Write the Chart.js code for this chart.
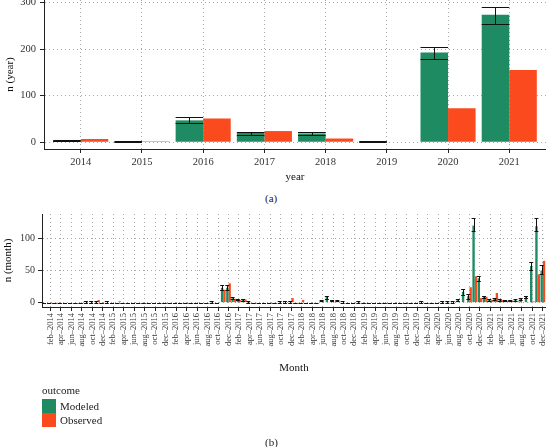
<!DOCTYPE html>
<html>
<head>
<meta charset="utf-8">
<title>Modeled vs observed counts</title>
<script src="https://cdn.jsdelivr.net/npm/chart.js@4.4.1/dist/chart.umd.min.js"></script>
<style>
  body { margin: 0; background: #fff; }
  #page { position: relative; width: 546px; height: 447px; overflow: hidden; font-family: "Liberation Serif", "DejaVu Serif", serif; color: #222; }
  canvas { position: absolute; left: 0; }
  .note { position: absolute; font-size: 11px; line-height: 14px; color: #222; }
  .swatch { position: absolute; left: 42px; width: 14px; height: 14px; }
</style>
</head>
<body>
<div id="page">
  <canvas id="yearChart" width="546" height="200" style="top:-10px"></canvas>
  <div class="note" style="left:265px;top:191px">(a)</div>
  <canvas id="monthChart" width="546" height="185" style="top:200px"></canvas>
  <div class="note" style="left:42px;top:383px">outcome</div>
  <div class="swatch" id="swModeled" style="top:399px"></div>
  <div class="note" style="left:60px;top:399px">Modeled</div>
  <div class="swatch" id="swObserved" style="top:413px"></div>
  <div class="note" style="left:60px;top:413px">Observed</div>
  <div class="note" style="left:265px;top:435px">(b)</div>
</div>
<script>
// ---- yearly totals (panel a) ----
const years = ['2014', '2015', '2016', '2017', '2018', '2019', '2020', '2021'];
const yearModeled   = [3, 1, 47, 20, 19, 1, 193, 274];
const yearModeledLo = [2, 0, 41, 15, 16, 0, 178, 254];
const yearModeledHi = [5, 2, 54, 22, 21, 2, 204, 291];
const yearObserved  = [7, 2, 51, 24, 8, 0, 73, 155];
const yearAxisTicks = [0, 100, 200, 300];

// ---- monthly counts (panel b), jan-2014 .. dec-2021, one row per year ----
const monthNames = ['jan', 'feb', 'mar', 'apr', 'may', 'jun', 'jul', 'aug', 'sep', 'oct', 'nov', 'dec'];
const monthYears = [2014, 2015, 2016, 2017, 2018, 2019, 2020, 2021];
const monthModeled = [
  0, 0, 0, 0, 0, 0, 0, 0, 1, 1, 1, 0,
  1, 0, 0, 0, 0, 0, 0, 0, 0, 0, 0, 0,
  0, 0, 0, 0, 0, 0, 0, 0, 1, 0, 23, 23,
  7, 5, 4, 1, 0, 0, 0, 0, 0, 1, 1, 1,
  0, 0, 0, 0, 0, 3, 9, 3, 3, 1, 0, 0,
  1, 0, 0, 0, 0, 0, 0, 0, 0, 0, 0, 0,
  1, 0, 0, 0, 1, 1, 1, 4, 17, 10, 120, 38,
  9, 4, 6, 4, 3, 3, 4, 6, 9, 57, 119, 50
];
const monthModeledLo = [
  0, 0, 0, 0, 0, 0, 0, 0, 0, 0, 0, 0,
  0, 0, 0, 0, 0, 0, 0, 0, 0, 0, 0, 0,
  0, 0, 0, 0, 0, 0, 0, 0, 0, 0, 19, 19,
  5, 4, 3, 0, 0, 0, 0, 0, 0, 0, 0, 0,
  0, 0, 0, 0, 0, 2, 6, 2, 2, 0, 0, 0,
  0, 0, 0, 0, 0, 0, 0, 0, 0, 0, 0, 0,
  0, 0, 0, 0, 0, 0, 0, 3, 12, 6, 112, 33,
  7, 3, 4, 3, 2, 2, 3, 4, 7, 51, 111, 45
];
const monthModeledHi = [
  0, 0, 0, 0, 0, 0, 0, 0, 2, 2, 2, 0,
  2, 0, 0, 0, 0, 0, 0, 0, 0, 0, 0, 0,
  0, 0, 0, 0, 0, 0, 0, 0, 2, 0, 27, 27,
  8, 6, 5, 2, 0, 0, 0, 0, 0, 2, 2, 2,
  0, 0, 0, 0, 0, 4, 11, 4, 4, 2, 0, 0,
  2, 0, 0, 0, 0, 0, 0, 0, 0, 0, 0, 0,
  2, 0, 0, 0, 2, 2, 2, 6, 22, 13, 131, 42,
  10, 5, 7, 5, 4, 4, 5, 7, 11, 63, 131, 58
];
const monthObserved = [
  0, 1, 1, 0, 0, 0, 0, 0, 0, 0, 4, 1,
  0, 0, 2, 0, 0, 0, 0, 0, 0, 0, 0, 0,
  0, 0, 0, 0, 0, 1, 0, 0, 0, 0, 20, 30,
  6, 4, 5, 1, 1, 0, 0, 0, 0, 0, 0, 7,
  1, 4, 0, 0, 0, 0, 1, 1, 1, 0, 0, 0,
  0, 0, 0, 0, 0, 0, 0, 0, 0, 0, 0, 0,
  0, 0, 0, 0, 0, 0, 0, 0, 1, 24, 41, 7,
  9, 4, 15, 4, 3, 3, 2, 1, 1, 2, 44, 65
];
const monthAxisTicks = [0, 50, 100];

const monthLabels = [];
monthYears.forEach(y => monthNames.forEach(m => monthLabels.push(m + '\u2013' + y)));
// every second month (feb, apr, ...) gets a tick
const monthTickValues = monthLabels.map((_, i) => i + 1).filter(v => v % 2 === 0);

const GREEN = '#1f8b62';
const RED = '#fb4a1d';
const SERIF = '"Liberation Serif", "DejaVu Serif", serif';
const INK = '#333';
const GRID = '#a8a8a8';

document.getElementById('swModeled').style.background = GREEN;
document.getElementById('swObserved').style.background = RED;

// draws black error bars over the first (Modeled) dataset
function errorBarPlugin(lo, hi, extra) {
  return {
    id: 'errorBars',
    afterDatasetsDraw(chart) {
      const meta = chart.getDatasetMeta(0);
      const yScale = chart.scales.y;
      const ctx = chart.ctx;
      ctx.save();
      ctx.strokeStyle = '#111';
      ctx.lineWidth = 1;
      meta.data.forEach((bar, i) => {
        const half = bar.width / 2 + extra;
        const y1 = Math.round(yScale.getPixelForValue(lo[i])) + 0.5;
        const y2 = Math.round(yScale.getPixelForValue(hi[i])) + 0.5;
        const x = Math.round(bar.x) + 0.5;
        ctx.beginPath();
        ctx.moveTo(x, y1); ctx.lineTo(x, y2);
        ctx.moveTo(bar.x - half, y1); ctx.lineTo(bar.x + half, y1);
        ctx.moveTo(bar.x - half, y2); ctx.lineTo(bar.x + half, y2);
        ctx.stroke();
      });
      ctx.restore();
    }
  };
}

function toPoints(values) {
  return values.map((v, i) => ({ x: i + 1, y: v }));
}

function axisStyle(tickSize) {
  return {
    grid: { color: GRID, lineWidth: 1, tickLength: 4, tickColor: '#222', tickWidth: 1, offset: false },
    border: { color: '#222', width: 1, dash: [1, 3] },
    ticks: { font: { family: SERIF, size: tickSize }, color: INK, autoSkip: false }
  };
}

// ---- panel (a) ----
const yearX = axisStyle(10.5);
const yearY = axisStyle(10.5);
new Chart(document.getElementById('yearChart'), {
  type: 'bar',
  data: {
    datasets: [
      { label: 'Modeled', data: toPoints(yearModeled), backgroundColor: GREEN },
      { label: 'Observed', data: toPoints(yearObserved), backgroundColor: RED }
    ]
  },
  options: {
    responsive: false,
    animation: false,
    layout: { padding: { top: 10, left: 0, right: 0, bottom: 0 } },
    datasets: { bar: { categoryPercentage: 0.9, barPercentage: 1, borderWidth: 0 } },
    plugins: { legend: { display: false }, tooltip: { enabled: false } },
    scales: {
      x: {
        type: 'linear', offset: false, min: 0.4, max: years.length + 0.6,
        afterBuildTicks: s => { s.ticks = years.map((_, i) => ({ value: i + 1 })); },
        afterFit: s => { s.height = 41; s.paddingLeft = 0; s.paddingRight = 0; },
        grid: yearX.grid, border: yearX.border,
        ticks: { ...yearX.ticks, padding: 3, maxRotation: 0, callback: v => years[v - 1] },
        title: { display: true, text: 'year', font: { family: SERIF, size: 11 }, color: '#111', padding: { top: 0, bottom: 6 } }
      },
      y: {
        min: -14.5, max: 305.5,
        afterBuildTicks: s => { s.ticks = yearAxisTicks.map(v => ({ value: v })); },
        afterFit: s => { s.width = 44; s.paddingTop = 0; s.paddingBottom = 0; },
        grid: yearY.grid, border: yearY.border,
        ticks: { ...yearY.ticks, padding: 4 },
        title: { display: true, text: 'n (year)', font: { family: SERIF, size: 11 }, color: '#111', padding: { top: 4, bottom: 0 } }
      }
    }
  },
  plugins: [errorBarPlugin(yearModeledLo, yearModeledHi, 0)]
});

// ---- panel (b) ----
const monthX = axisStyle(8.5);
const monthY = axisStyle(10);
new Chart(document.getElementById('monthChart'), {
  type: 'bar',
  data: {
    datasets: [
      { label: 'Modeled', data: toPoints(monthModeled), backgroundColor: GREEN },
      { label: 'Observed', data: toPoints(monthObserved), backgroundColor: RED }
    ]
  },
  options: {
    responsive: false,
    animation: false,
    layout: { padding: { top: 14, left: 0, right: 0, bottom: 0 } },
    datasets: { bar: { categoryPercentage: 0.9, barPercentage: 1, borderWidth: 0 } },
    plugins: { legend: { display: false }, tooltip: { enabled: false } },
    scales: {
      x: {
        type: 'linear', offset: false, min: 0.4, max: monthLabels.length + 0.6,
        afterBuildTicks: s => { s.ticks = monthTickValues.map(v => ({ value: v })); },
        afterFit: s => { s.height = 78; s.paddingLeft = 0; s.paddingRight = 0; },
        grid: monthX.grid, border: monthX.border,
        ticks: { ...monthX.ticks, padding: 2, minRotation: 90, maxRotation: 90, callback: v => monthLabels[v - 1] },
        title: { display: true, text: 'Month', font: { family: SERIF, size: 11 }, color: '#111', padding: { top: 0, bottom: 10 } }
      },
      y: {
        min: -6.8, max: 138,
        afterBuildTicks: s => { s.ticks = monthAxisTicks.map(v => ({ value: v })); },
        afterFit: s => { s.width = 42; s.paddingTop = 0; s.paddingBottom = 0; },
        grid: monthY.grid, border: monthY.border,
        ticks: { ...monthY.ticks, padding: 3 },
        title: { display: true, text: 'n (month)', font: { family: SERIF, size: 11 }, color: '#111', padding: { top: 2, bottom: 0 } }
      }
    }
  },
  plugins: [errorBarPlugin(monthModeledLo, monthModeledHi, 0.8)]
});
</script>
</body>
</html>
